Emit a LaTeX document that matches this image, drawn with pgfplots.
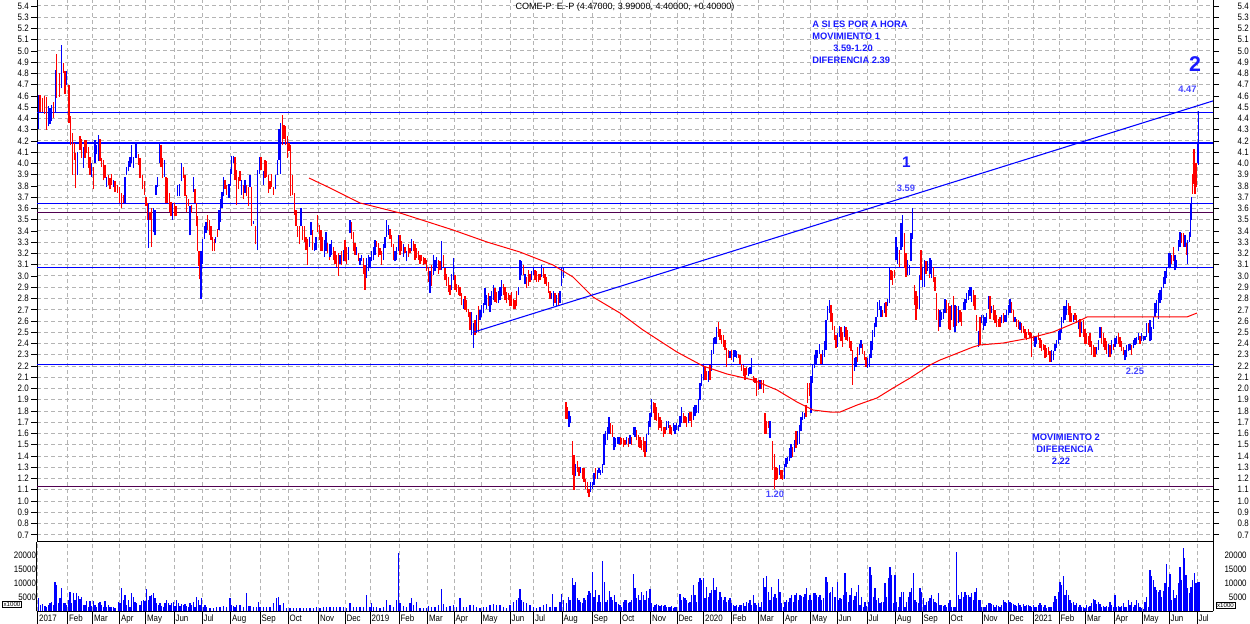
\documentclass[border=0pt]{standalone}
\usepackage{pgfplots}
\pgfplotsset{compat=1.18}
\usepackage{pgfplotstable}
\usepackage{fontspec}
\setmainfont{Liberation Sans}
\newfontfamily\nfont{Liberation Sans}[FakeStretch=0.85]
\definecolor{mblue}{RGB}{0,0,255}
\definecolor{mred}{RGB}{255,0,0}
\definecolor{mpurple}{RGB}{80,0,80}
\definecolor{gridgray}{RGB}{180,180,180}
\definecolor{annblue}{RGB}{25,25,255}
\definecolor{numblue}{RGB}{70,70,255}

\pgfplotstableread{
x l h c
38.3 4.31 4.61 1
40.0 4.46 4.61 0
42.3 4.46 4.58 0
44.7 4.44 4.60 0
46.7 4.30 4.59 0
48.3 4.33 4.51 1
50.0 4.35 4.49 1
51.7 4.38 4.52 1
53.3 4.40 4.55 0
55.7 4.45 4.83 1
56.7 4.58 4.97 0
59.3 4.59 4.80 0
61.7 4.67 5.05 1
63.3 4.80 4.89 0
65.0 4.62 4.82 0
66.7 4.70 4.82 1
69.0 4.36 4.70 0
70.7 4.16 4.42 0
72.7 3.90 4.27 0
74.3 4.03 4.18 0
75.7 3.78 4.09 0
77.3 3.90 4.10 1
80.0 4.12 4.24 0
81.7 4.05 4.22 0
83.3 3.96 4.15 1
85.0 4.05 4.21 0
86.7 4.09 4.21 0
88.3 3.96 4.15 0
90.0 3.90 4.06 0
91.7 3.88 4.00 1
93.3 3.77 3.97 0
95.0 4.00 4.21 1
96.7 4.08 4.16 1
98.3 4.02 4.25 1
100.0 4.02 4.22 0
101.7 3.97 4.05 0
103.3 3.85 4.03 0
105.0 3.87 3.99 0
106.7 3.79 3.88 1
108.3 3.81 3.90 0
110.0 3.77 3.87 0
111.7 3.81 3.91 0
113.3 3.79 3.85 1
115.0 3.75 3.84 0
117.3 3.74 3.81 0
119.3 3.65 3.79 0
121.7 3.60 3.74 0
123.3 3.65 3.72 0
125.0 3.65 3.88 1
126.7 3.90 3.97 1
128.3 3.93 4.02 1
130.0 3.97 4.06 1
131.7 4.00 4.16 1
133.3 3.96 4.06 1
136.0 4.05 4.18 1
138.3 3.99 4.08 0
140.0 3.87 4.05 0
142.3 3.77 3.90 0
144.3 3.72 3.84 0
146.0 3.62 3.70 0
147.3 3.50 3.65 0
148.3 3.25 3.65 1
150.0 3.50 3.57 0
151.7 3.26 3.60 0
153.3 3.39 3.60 1
155.0 3.36 3.59 1
156.0 3.72 3.81 1
157.7 3.79 3.88 1
159.3 4.00 4.18 1
161.0 3.97 4.16 0
162.7 3.87 4.05 0
164.3 3.88 4.03 1
166.0 3.65 3.88 0
167.7 3.65 3.87 0
169.3 3.57 3.74 0
171.0 3.53 3.66 0
172.7 3.50 3.65 1
174.3 3.53 3.65 0
176.0 3.53 3.62 0
177.7 3.71 3.81 1
179.3 3.71 3.82 1
181.7 3.84 4.00 1
183.3 3.87 3.97 0
185.0 3.71 3.90 0
186.7 3.57 3.72 0
188.3 3.62 3.68 0
190.0 3.36 3.62 1
191.7 3.56 3.63 0
193.3 3.75 3.88 1
195.0 3.65 3.77 0
196.7 3.44 3.65 0
197.7 3.22 3.53 0
199.0 3.09 3.22 0
200.0 2.97 3.11 0
201.0 2.80 3.22 1
202.7 3.11 3.33 1
204.3 3.33 3.44 1
206.0 3.38 3.48 1
207.7 3.41 3.54 0
209.3 3.36 3.50 0
211.0 3.32 3.44 0
212.7 3.22 3.35 0
214.3 3.22 3.33 0
215.7 3.29 3.35 1
217.3 3.35 3.42 0
219.0 3.41 3.59 1
220.7 3.48 3.68 1
222.0 3.60 3.75 1
223.3 3.71 3.88 1
225.0 3.77 3.85 0
226.7 3.72 3.81 0
229.0 3.69 3.82 1
230.3 3.80 3.95 1
231.7 3.91 4.07 1
233.3 4.00 4.07 1
235.0 3.85 4.06 0
236.7 3.63 3.94 0
238.3 3.77 3.88 0
240.0 3.84 3.93 0
241.7 3.72 3.85 1
243.3 3.68 3.81 0
245.0 3.74 3.85 1
246.7 3.71 3.81 0
248.3 3.62 3.79 0
250.0 3.79 3.90 1
251.7 3.44 3.79 0
253.3 3.46 3.49 1
255.7 3.28 3.44 0
257.7 3.23 3.94 1
259.3 3.91 4.06 1
261.0 3.94 4.06 0
263.3 3.81 3.93 1
265.0 3.87 4.03 0
266.7 3.88 4.02 0
268.3 3.74 3.90 0
270.0 3.77 3.84 0
271.7 3.79 3.91 0
273.3 3.72 3.79 0
275.7 3.77 3.90 1
277.3 3.90 4.03 1
279.0 4.03 4.31 1
280.7 3.91 4.36 1
282.3 4.16 4.43 0
284.0 4.22 4.34 0
285.7 4.16 4.33 0
287.3 4.05 4.24 0
289.0 4.11 4.18 0
290.7 3.71 4.16 0
292.3 3.72 3.90 0
294.3 3.54 3.74 0
296.0 3.44 3.59 0
297.7 3.35 3.44 0
299.3 3.28 3.44 0
301.0 3.44 3.60 1
302.7 3.32 3.44 0
304.3 3.30 3.44 0
306.0 3.23 3.35 0
307.7 3.10 3.33 0
309.3 3.26 3.35 1
311.0 3.36 3.48 1
312.7 3.23 3.41 0
314.3 3.22 3.29 1
316.0 3.23 3.35 1
317.7 3.39 3.54 0
319.3 3.32 3.45 0
321.0 3.22 3.41 0
322.7 3.22 3.35 0
324.3 3.17 3.32 1
326.0 3.22 3.39 1
327.7 3.20 3.29 0
329.3 3.14 3.28 0
330.0 3.17 3.28 1
331.7 3.19 3.32 1
333.3 3.14 3.26 0
335.0 3.11 3.22 0
336.7 3.08 3.19 0
338.3 3.00 3.20 0
340.0 3.11 3.19 1
341.7 3.10 3.22 0
343.3 3.13 3.23 1
345.0 3.13 3.32 0
346.7 3.11 3.26 0
348.3 3.14 3.26 1
350.0 3.38 3.50 1
351.7 3.33 3.48 0
353.3 3.22 3.39 0
355.0 3.19 3.29 0
356.7 3.19 3.26 1
358.3 3.13 3.20 0
360.0 3.10 3.16 1
361.7 3.13 3.19 1
363.3 3.02 3.16 0
365.0 2.88 3.10 0
366.7 2.98 3.16 1
368.3 3.04 3.19 1
370.0 3.07 3.17 1
371.7 3.13 3.22 1
373.3 3.14 3.26 1
375.0 3.19 3.32 1
376.7 3.26 3.31 0
378.3 3.17 3.29 0
380.0 3.19 3.25 0
381.7 3.10 3.22 0
383.3 3.14 3.28 1
385.0 3.25 3.35 1
386.7 3.35 3.50 1
388.3 3.36 3.45 1
390.0 3.33 3.42 0
391.7 3.26 3.36 0
393.3 3.14 3.28 0
395.0 3.13 3.22 1
396.7 3.14 3.26 1
398.3 3.22 3.36 1
400.0 3.19 3.36 0
401.7 3.22 3.31 0
403.3 3.17 3.28 1
405.0 3.20 3.26 0
406.7 3.13 3.22 1
408.3 3.17 3.28 0
410.0 3.20 3.25 0
411.7 3.22 3.33 1
413.3 3.22 3.31 0
415.0 3.14 3.28 0
416.7 3.16 3.25 0
418.3 3.14 3.22 0
420.0 3.11 3.19 0
421.7 3.13 3.19 0
423.3 3.10 3.17 0
425.0 3.11 3.16 0
426.7 3.04 3.14 0
428.3 2.95 3.08 0
430.0 2.85 3.04 1
431.7 2.91 3.10 0
433.3 3.01 3.19 1
435.0 3.04 3.14 1
436.7 3.08 3.17 1
438.3 3.02 3.14 0
440.0 3.05 3.13 0
441.7 3.05 3.31 1
443.3 3.08 3.19 0
445.0 2.96 3.07 0
446.7 2.91 3.02 0
448.3 2.86 2.99 0
450.0 2.83 2.92 0
451.7 2.88 3.02 1
453.3 2.96 3.16 1
455.0 2.88 3.01 0
456.7 2.86 2.93 0
458.3 2.83 2.92 0
460.0 2.82 2.90 0
461.7 2.74 2.85 0
463.3 2.71 2.80 1
465.0 2.70 2.82 0
466.7 2.68 2.79 0
468.3 2.64 2.71 0
470.0 2.52 2.68 0
471.7 2.48 2.68 1
473.3 2.36 2.58 1
475.0 2.48 2.61 0
476.7 2.49 2.65 1
478.3 2.50 2.73 0
480.0 2.61 2.70 1
481.7 2.64 2.74 1
483.3 2.67 2.76 1
485.0 2.74 2.89 1
486.7 2.71 2.83 1
488.3 2.73 2.85 0
490.0 2.68 2.82 1
491.7 2.74 2.87 1
493.3 2.79 2.92 1
495.0 2.77 2.89 0
496.7 2.76 2.86 0
498.3 2.76 2.87 1
500.0 2.79 2.90 1
501.7 2.82 2.96 1
503.3 2.83 2.93 0
505.0 2.79 2.90 0
506.7 2.76 2.86 0
508.3 2.79 2.85 0
510.0 2.73 2.83 0
511.7 2.73 2.86 0
513.3 2.71 2.80 0
515.0 2.71 2.79 0
516.7 2.73 2.87 0
518.3 2.83 2.90 1
520.0 2.96 3.14 1
521.7 3.01 3.13 1
523.3 3.01 3.10 0
525.0 2.93 3.02 1
526.7 2.89 2.99 0
528.3 2.91 3.05 0
530.0 2.95 3.02 0
531.7 2.96 3.04 1
533.3 3.01 3.08 1
535.0 2.96 3.05 0
536.7 2.95 3.04 0
538.3 2.95 3.02 0
540.0 2.96 3.02 0
541.7 2.99 3.10 1
543.3 2.98 3.07 0
545.0 2.93 3.02 0
546.7 2.91 2.99 0
548.3 2.85 2.95 0
550.0 2.80 2.87 0
551.7 2.80 2.85 1
553.3 2.73 2.87 1
555.0 2.76 2.85 0
556.7 2.73 2.83 1
558.3 2.74 2.85 0
560.0 2.76 2.87 1
561.7 2.91 3.07 1
563.3 2.98 3.07 1
566.0 1.73 1.88 0
567.3 1.73 1.84 0
569.0 1.66 1.80 1
570.7 1.69 1.76 1
572.3 1.23 1.53 0
574.0 1.10 1.41 0
575.7 1.22 1.33 1
577.3 1.26 1.36 0
579.0 1.22 1.30 0
580.7 1.25 1.30 1
582.3 1.20 1.29 0
584.0 1.17 1.29 0
585.7 1.11 1.20 0
587.3 1.07 1.17 0
589.0 1.04 1.11 0
590.7 1.08 1.17 1
592.3 1.11 1.17 1
594.0 1.14 1.25 1
595.7 1.20 1.29 0
597.3 1.20 1.28 1
599.0 1.25 1.29 1
600.7 1.23 1.28 1
602.3 1.25 1.33 1
604.0 1.32 1.60 1
605.7 1.50 1.62 1
607.3 1.54 1.66 1
609.0 1.60 1.75 1
610.7 1.60 1.69 0
612.3 1.57 1.68 0
614.0 1.45 1.57 1
615.7 1.48 1.56 1
617.3 1.51 1.57 1
619.0 1.51 1.57 1
620.0 1.50 1.57 0
621.7 1.51 1.56 0
623.3 1.48 1.56 0
625.0 1.50 1.54 0
626.7 1.51 1.57 1
628.3 1.48 1.56 0
630.0 1.51 1.59 1
631.7 1.50 1.57 0
633.3 1.59 1.66 1
635.0 1.57 1.66 1
636.7 1.54 1.63 0
638.3 1.48 1.59 0
640.0 1.47 1.57 0
641.7 1.45 1.54 0
643.3 1.44 1.57 0
645.0 1.39 1.53 0
646.7 1.44 1.60 1
648.3 1.59 1.71 1
650.0 1.66 1.78 1
651.7 1.75 1.91 1
653.3 1.78 1.88 0
655.0 1.72 1.87 0
656.7 1.71 1.84 0
658.3 1.63 1.78 0
660.0 1.65 1.75 0
661.7 1.62 1.72 0
663.3 1.57 1.66 0
665.0 1.60 1.66 0
666.7 1.63 1.71 1
668.3 1.65 1.71 1
670.0 1.60 1.68 0
671.7 1.59 1.66 0
673.3 1.62 1.69 1
675.0 1.60 1.68 1
676.7 1.63 1.69 1
678.3 1.62 1.68 1
680.0 1.66 1.76 1
681.7 1.69 1.84 1
683.3 1.69 1.78 0
685.0 1.69 1.76 0
686.7 1.66 1.75 0
688.3 1.69 1.78 1
690.0 1.71 1.79 0
691.7 1.66 1.79 0
693.3 1.72 1.84 1
695.0 1.76 1.85 1
696.7 1.78 1.85 1
698.3 1.78 1.91 1
700.0 1.90 2.05 1
701.7 2.02 2.13 1
703.3 2.08 2.21 1
705.0 2.08 2.19 0
706.7 2.08 2.16 0
708.3 2.06 2.16 1
710.0 2.08 2.21 0
711.7 2.16 2.34 1
713.3 2.31 2.45 1
715.0 2.40 2.46 1
716.7 2.40 2.55 1
718.3 2.46 2.59 0
720.0 2.43 2.53 0
721.7 2.40 2.48 0
723.3 2.37 2.48 0
725.0 2.34 2.43 0
726.7 2.19 2.36 0
728.3 2.27 2.34 0
730.0 2.27 2.33 1
731.7 2.25 2.34 0
733.3 2.24 2.34 1
735.0 2.28 2.34 1
736.7 2.27 2.33 1
738.3 2.27 2.31 0
740.0 2.22 2.30 0
741.7 2.16 2.22 0
743.3 2.11 2.21 0
745.0 2.08 2.18 0
746.7 2.12 2.19 0
748.3 2.11 2.18 1
750.0 2.13 2.19 1
751.7 2.13 2.27 1
753.3 2.06 2.11 0
755.0 2.05 2.09 0
756.7 1.93 2.09 0
758.3 1.99 2.08 0
760.0 2.00 2.08 1
761.7 2.00 2.08 0
763.3 1.96 2.08 0
765.0 1.60 1.78 0
766.7 1.60 1.71 0
768.3 1.65 1.71 0
770.0 1.56 1.71 1
772.7 1.28 1.53 0
774.3 1.11 1.42 0
776.0 1.19 1.30 0
777.7 1.20 1.29 0
779.3 1.23 1.32 1
781.0 1.20 1.28 0
782.7 1.19 1.28 0
784.3 1.20 1.33 1
786.0 1.30 1.38 1
787.7 1.33 1.39 1
789.3 1.36 1.47 1
791.0 1.38 1.51 1
792.7 1.39 1.48 0
794.3 1.44 1.54 1
796.0 1.47 1.62 0
797.7 1.50 1.62 1
799.3 1.51 1.68 1
801.0 1.62 1.75 1
802.7 1.72 1.79 1
804.3 1.73 1.78 1
806.0 1.75 1.85 0
807.7 1.87 2.05 0
809.3 1.93 2.05 0
811.0 1.78 2.11 1
812.7 2.05 2.21 1
814.3 2.18 2.30 1
816.0 2.22 2.34 1
817.7 2.27 2.34 1
819.3 2.31 2.40 1
821.0 2.22 2.31 0
822.7 2.21 2.34 1
824.3 2.28 2.42 1
826.0 2.34 2.61 1
827.7 2.61 2.73 1
829.3 2.67 2.79 1
831.0 2.59 2.74 0
832.7 2.52 2.67 0
834.3 2.43 2.56 0
836.0 2.36 2.48 0
837.7 2.37 2.49 1
839.3 2.46 2.56 1
841.0 2.42 2.55 0
842.7 2.37 2.50 0
844.3 2.46 2.56 1
846.0 2.43 2.55 0
847.7 2.42 2.52 0
849.3 2.36 2.46 0
851.0 2.33 2.42 0
852.7 2.03 2.34 0
854.3 2.16 2.27 1
856.0 2.19 2.28 1
857.7 2.24 2.37 0
859.3 2.30 2.40 1
861.0 2.36 2.43 1
862.7 2.31 2.40 0
864.3 2.25 2.33 0
866.0 2.19 2.28 0
867.7 2.18 2.27 1
869.3 2.19 2.31 1
871.0 2.27 2.42 1
872.7 2.34 2.52 1
874.3 2.46 2.58 1
876.0 2.55 2.64 1
877.7 2.64 2.77 1
879.3 2.70 2.79 1
881.0 2.64 2.73 1
882.7 2.64 2.70 0
884.3 2.67 2.76 1
886.0 2.64 2.77 0
887.7 2.73 2.80 1
889.3 2.76 3.08 1
891.0 2.96 3.05 0
892.7 2.92 3.04 0
894.3 2.98 3.05 0
896.0 3.14 3.35 1
897.7 3.11 3.26 1
899.3 3.08 3.23 0
901.0 3.23 3.47 1
902.7 3.26 3.54 1
904.3 3.07 3.38 0
906.0 2.99 3.20 0
907.7 3.01 3.14 1
909.3 3.01 3.10 1
911.0 3.13 3.38 1
912.7 3.33 3.60 1
914.3 2.74 2.92 0
916.0 2.61 2.87 0
917.7 2.71 2.82 0
919.3 2.71 3.01 1
921.0 2.96 3.23 0
922.7 2.90 3.08 1
924.3 2.90 3.14 1
926.0 3.02 3.13 0
927.7 3.04 3.13 1
929.3 2.98 3.10 0
930.0 3.02 3.16 1
931.7 2.98 3.14 1
933.3 2.95 3.08 0
935.0 2.87 2.99 0
936.7 2.61 2.85 0
938.3 2.51 2.71 0
940.0 2.55 2.70 1
941.7 2.61 2.68 1
943.3 2.62 2.71 1
945.0 2.67 2.80 1
946.7 2.67 2.79 0
948.3 2.53 2.76 0
950.0 2.52 2.73 0
951.7 2.61 2.74 1
953.3 2.55 2.82 0
955.0 2.50 2.74 1
956.7 2.56 2.73 0
958.3 2.58 2.73 1
960.0 2.59 2.70 0
961.7 2.56 2.68 0
963.3 2.70 2.77 1
965.0 2.70 2.80 1
966.7 2.76 2.85 1
968.3 2.79 2.88 1
970.0 2.82 2.90 1
971.7 2.77 2.90 1
973.3 2.73 2.88 0
975.0 2.70 2.83 0
976.7 2.51 2.65 0
978.3 2.37 2.51 1
980.0 2.39 2.64 0
981.7 2.58 2.65 1
983.3 2.52 2.65 1
985.0 2.56 2.64 1
986.7 2.58 2.67 1
988.3 2.71 2.82 1
990.0 2.62 2.82 0
991.7 2.67 2.73 1
993.3 2.61 2.74 0
995.0 2.58 2.70 0
996.7 2.55 2.65 0
998.3 2.55 2.62 0
1000.0 2.55 2.64 0
1001.7 2.58 2.65 1
1003.3 2.58 2.67 0
1005.0 2.59 2.65 1
1006.7 2.59 2.70 1
1008.3 2.65 2.74 1
1010.0 2.67 2.80 1
1011.7 2.67 2.77 0
1013.3 2.59 2.70 0
1015.0 2.59 2.64 1
1016.7 2.55 2.62 0
1018.3 2.53 2.61 0
1020.0 2.52 2.59 1
1021.7 2.49 2.58 0
1023.3 2.49 2.56 0
1025.0 2.45 2.53 0
1026.7 2.43 2.50 0
1028.3 2.48 2.53 0
1030.0 2.45 2.50 0
1031.7 2.28 2.49 0
1033.3 2.42 2.47 0
1035.0 2.37 2.47 1
1036.7 2.40 2.46 1
1038.3 2.43 2.49 0
1040.0 2.36 2.45 0
1041.7 2.33 2.43 0
1043.3 2.34 2.40 0
1045.0 2.27 2.39 0
1046.7 2.28 2.36 0
1048.3 2.30 2.37 0
1050.0 2.24 2.33 0
1051.7 2.24 2.34 1
1053.3 2.25 2.33 1
1055.0 2.33 2.40 1
1056.7 2.36 2.43 1
1058.3 2.40 2.51 1
1060.0 2.43 2.53 1
1061.7 2.49 2.64 1
1063.3 2.58 2.73 1
1065.0 2.61 2.73 1
1066.7 2.65 2.79 1
1068.3 2.65 2.76 0
1070.0 2.59 2.73 0
1071.7 2.59 2.67 0
1073.3 2.59 2.65 1
1075.0 2.61 2.67 0
1076.7 2.58 2.65 0
1078.3 2.53 2.61 1
1080.0 2.46 2.62 0
1081.7 2.49 2.59 1
1083.3 2.46 2.61 0
1085.0 2.40 2.53 0
1086.7 2.40 2.49 0
1088.3 2.39 2.47 0
1090.0 2.37 2.49 0
1091.7 2.30 2.42 0
1093.3 2.28 2.39 0
1095.0 2.28 2.37 0
1096.7 2.31 2.37 1
1098.3 2.34 2.43 1
1100.0 2.45 2.55 1
1101.7 2.40 2.55 0
1103.3 2.37 2.49 0
1105.0 2.34 2.45 0
1106.7 2.31 2.42 0
1108.3 2.28 2.40 1
1110.0 2.28 2.39 0
1111.7 2.31 2.43 1
1113.3 2.34 2.40 0
1115.0 2.37 2.45 1
1116.7 2.40 2.47 1
1118.3 2.40 2.49 0
1120.0 2.37 2.46 0
1121.7 2.33 2.42 0
1123.3 2.30 2.37 0
1125.0 2.25 2.34 1
1126.7 2.28 2.39 1
1128.3 2.33 2.40 1
1130.0 2.34 2.40 1
1131.7 2.30 2.39 0
1133.3 2.36 2.43 1
1135.0 2.39 2.45 1
1136.7 2.40 2.46 1
1138.3 2.43 2.49 1
1140.0 2.40 2.47 0
1141.7 2.42 2.49 1
1143.3 2.42 2.47 1
1145.0 2.43 2.47 1
1146.7 2.46 2.58 1
1148.3 2.49 2.58 0
1150.0 2.42 2.61 1
1151.7 2.43 2.55 1
1153.3 2.53 2.64 1
1155.0 2.64 2.76 1
1156.7 2.67 2.79 1
1158.3 2.62 2.85 1
1160.0 2.76 2.88 1
1161.7 2.79 2.90 1
1163.3 2.89 2.99 1
1165.0 2.93 3.04 1
1166.7 2.98 3.08 1
1168.3 3.08 3.20 1
1170.0 3.08 3.20 1
1171.7 3.11 3.19 0
1173.3 3.13 3.26 0
1175.0 3.05 3.19 1
1176.7 3.08 3.14 1
1178.3 3.22 3.32 1
1180.0 3.26 3.39 1
1181.7 3.29 3.38 0
1183.3 3.26 3.38 0
1185.0 3.26 3.36 1
1186.7 3.19 3.29 0
1187.7 3.11 3.32 1
1189.3 3.30 3.39 1
1190.7 3.35 3.65 1
1191.7 3.50 3.70 1
1192.7 3.73 3.91 0
1194.0 3.82 4.13 0
1195.0 3.73 4.00 0
1196.0 3.79 4.00 0
1197.7 4.00 4.18 1
1198.3 3.99 4.47 1
}\price

\pgfplotstableread{
x v
38.3 4700
40.7 2300
42.3 2700
45.0 2000
46.7 1500
48.3 2300
50.0 2900
51.7 3500
53.3 2300
55.0 10500
56.7 9400
58.3 2900
60.0 4800
61.7 8200
63.3 2900
65.0 3100
66.7 2300
68.3 4100
70.0 7000
71.7 2900
73.3 6700
75.0 4100
76.7 6500
78.3 5500
80.0 4300
81.7 5000
83.3 2300
85.0 2300
86.7 3700
88.3 1700
90.0 3700
91.7 2000
93.3 3700
95.0 2300
96.7 1700
98.3 2900
100.0 3500
101.7 2300
103.3 1700
105.0 3700
106.7 1500
108.3 2300
110.0 1500
111.7 1500
113.3 1500
115.0 1100
118.3 3500
120.0 2900
121.7 8200
123.3 4100
125.0 5900
126.7 2300
128.3 4100
130.0 1700
131.7 6500
133.3 5300
135.0 3500
136.7 2900
140.0 2300
141.7 3700
143.3 4100
145.0 3700
146.7 8000
148.3 4100
150.0 5500
151.7 5900
153.3 6500
155.0 4700
156.7 2900
158.3 2300
160.0 2900
161.7 2000
163.3 1700
165.0 3100
166.7 4100
168.3 2900
170.0 2300
171.7 3100
173.3 3500
175.0 2000
176.7 4100
178.3 3100
180.0 2000
181.7 2700
183.3 2300
185.0 2600
186.7 2000
188.3 1700
190.0 2900
191.7 2300
193.3 3500
195.0 1700
196.7 5000
198.3 4100
200.0 2300
201.7 4700
203.3 1700
205.0 2300
206.7 1500
210.0 1100
213.3 1100
216.7 1500
220.0 1500
223.3 2000
226.7 1500
230.0 4700
231.7 2300
233.3 2000
235.0 1700
236.7 2300
240.0 2300
243.3 1500
246.7 6700
248.3 2000
250.0 2000
253.3 1500
256.7 1500
258.3 3500
260.0 1500
263.3 1500
266.7 1500
270.0 1700
273.3 2900
276.7 4700
278.3 5000
280.0 2300
283.3 2900
286.7 1100
290.0 1100
293.3 1100
296.7 1100
300.0 1100
303.3 1100
306.7 1100
310.0 1100
313.3 1100
316.7 1500
320.0 1100
323.3 1500
326.7 1500
330.0 1500
333.3 1500
336.7 1700
340.0 1500
343.3 1500
346.7 1100
350.0 3100
353.3 1500
356.7 1500
360.0 1700
363.3 1500
366.7 5900
370.0 1500
371.7 2900
373.3 1500
376.7 1500
380.0 1100
383.3 1500
386.7 4100
390.0 2300
393.3 1700
396.7 4100
398.3 20600
400.0 2900
403.3 2000
406.7 1500
410.0 2900
411.7 4700
413.3 2300
416.7 3500
420.0 1100
423.3 1100
426.7 1100
428.3 2000
431.7 1700
435.0 1500
438.3 2300
441.7 8000
443.3 2700
446.7 1500
450.0 2000
453.3 2300
456.7 1500
460.0 4800
463.3 1500
466.7 1500
470.0 2300
473.3 2300
476.7 1500
480.0 1100
483.3 1500
486.7 1500
490.0 2300
493.3 2700
496.7 2300
500.0 2300
503.3 1700
506.7 1100
510.0 2300
513.3 3500
516.7 4100
518.3 4700
520.0 8000
521.7 4100
523.3 3500
526.7 2900
530.0 2300
533.3 1500
536.7 1100
540.0 1500
543.3 2300
546.7 2700
550.0 1500
552.7 6200
555.0 1500
556.7 1700
560.0 3500
561.7 6200
563.3 4100
566.7 2900
568.3 5000
570.0 4100
572.3 11800
574.0 9400
575.7 10600
577.3 4700
579.0 4100
580.7 3500
582.3 2900
584.0 4700
585.7 4100
587.3 5900
589.0 7400
590.7 6700
592.3 14100
594.0 5300
595.7 7600
597.3 3500
599.0 5900
600.7 3500
602.7 17700
604.3 10600
606.0 3500
607.7 4100
609.3 7400
611.0 5300
612.7 4100
614.3 5900
616.0 3500
618.3 2700
620.0 2300
621.7 1700
623.3 3500
625.0 4100
626.7 4100
628.3 2900
630.0 3500
631.7 4100
633.3 13300
635.0 8200
636.7 4700
638.3 5900
640.0 4100
641.7 7000
643.3 5900
645.0 4100
646.7 7400
648.3 4700
650.0 8000
651.7 2900
653.3 1700
655.0 2300
656.7 2700
658.3 2300
660.0 2000
661.7 2300
663.3 2000
665.0 2300
666.7 1500
668.3 1700
670.0 1500
671.7 2000
673.3 1100
675.0 1500
676.7 1700
680.0 6200
681.7 4100
683.3 5300
685.0 4700
686.7 4100
688.3 2900
690.0 3500
691.7 5900
693.3 9400
695.0 5900
696.7 3500
698.3 10600
700.0 11800
701.7 11200
703.3 11800
705.0 4700
706.7 8800
708.3 5300
710.0 6500
711.7 7600
713.3 11800
715.0 7600
716.7 8800
718.3 4100
720.0 7000
721.7 5300
723.3 4100
725.0 5300
726.7 3500
728.3 4100
730.0 4700
731.7 2900
733.3 2300
735.0 2000
736.7 2300
738.3 1500
740.0 2300
741.7 2300
743.3 2900
745.0 2000
746.7 3500
748.3 2900
750.0 4100
751.7 2300
753.3 5900
755.0 2900
756.7 2300
758.3 2900
760.0 1700
761.7 3500
763.3 11800
765.0 8800
766.7 12600
768.3 7000
770.0 4100
771.7 8800
773.3 5300
775.0 6200
776.7 4700
778.3 11400
780.0 7000
781.7 2900
783.3 1500
785.0 3500
786.7 4100
788.3 3500
790.0 4700
791.7 5900
793.3 3500
795.0 5900
796.7 6500
798.3 4100
800.0 5900
801.7 5500
803.3 5300
805.0 6200
806.7 8200
808.3 4100
810.0 5900
811.7 4100
813.3 6500
815.0 6500
816.7 5900
818.3 5300
820.0 5900
821.7 4100
823.3 4700
826.0 12100
827.3 10600
829.3 6500
830.7 7000
832.7 8800
835.0 5000
837.3 10300
838.3 4100
840.0 4700
841.7 4300
843.3 5900
845.0 13500
846.7 7000
848.3 3500
850.0 5900
851.7 8200
853.3 4100
855.0 5500
856.7 7000
858.3 9400
860.0 2300
861.7 5000
863.3 1700
865.0 3500
866.7 2000
868.3 3500
870.0 15900
871.7 13000
873.3 5300
875.0 8200
876.7 4100
878.3 4700
880.0 2900
881.7 3500
883.3 3500
885.0 10000
886.7 5300
888.3 11800
890.0 15900
891.7 13000
893.3 2900
895.0 13000
896.7 3500
898.3 1700
900.0 5300
901.7 7000
903.3 7000
905.0 1700
906.7 3500
908.3 5000
910.0 7000
911.7 8200
913.3 13500
915.0 4100
916.7 3500
918.3 2900
920.0 8200
921.7 7000
923.3 4700
925.0 2300
926.7 3500
928.3 3800
930.0 4700
931.7 5900
933.3 4300
935.0 3500
936.7 3100
938.3 6500
940.0 2300
941.7 2300
943.3 2000
945.0 2300
946.7 1500
948.3 2900
950.0 4100
951.7 1700
953.3 1700
955.0 1500
956.7 21200
958.3 5900
960.0 4300
961.7 7000
963.3 5300
965.0 7000
966.7 5900
968.3 5900
970.0 5000
971.7 6500
973.3 4100
975.0 7000
976.7 8200
978.3 4100
980.0 3900
981.7 1500
983.3 1500
985.0 1500
986.7 2300
988.3 3100
990.0 2900
991.7 2700
993.3 2300
995.0 1500
996.7 2300
998.3 2000
1000.0 1500
1001.7 2300
1003.3 4100
1005.0 3500
1006.7 2900
1008.3 4100
1010.0 3500
1011.7 2900
1013.3 2700
1015.0 2300
1016.7 2000
1018.3 3100
1020.0 2300
1021.7 1500
1023.3 2700
1025.0 2000
1026.7 2300
1028.3 2300
1030.0 2000
1031.7 1500
1033.3 2300
1035.0 1700
1036.7 1500
1038.3 2300
1040.0 2900
1041.7 2300
1043.3 1500
1045.0 2300
1046.7 1100
1048.3 1500
1050.0 1700
1051.7 1500
1053.3 3500
1055.0 5500
1056.7 4300
1058.3 7000
1060.0 10600
1061.7 9400
1063.3 12600
1065.0 5900
1066.7 7600
1068.3 5900
1070.0 4100
1071.7 2900
1073.3 3500
1075.0 2300
1076.7 2900
1078.3 1500
1080.0 2300
1081.7 1500
1083.3 1500
1085.0 1100
1086.7 2300
1088.3 1500
1090.0 2000
1091.7 3100
1093.3 4300
1095.0 4100
1096.7 2700
1098.3 3500
1100.0 2700
1101.7 1500
1103.3 2000
1105.0 1500
1106.7 2000
1108.3 1500
1110.0 3500
1111.7 2300
1113.3 1500
1115.0 5900
1116.7 1500
1118.3 2000
1120.0 1500
1121.7 2000
1123.3 2900
1125.0 1500
1126.7 1500
1128.3 4100
1130.0 2300
1131.7 3500
1133.3 1500
1135.0 2300
1136.7 4100
1138.3 2900
1140.0 1500
1141.7 1100
1143.3 800
1145.0 3500
1146.7 5000
1148.3 1500
1150.0 14700
1151.7 12400
1153.3 11200
1155.0 8800
1156.7 7600
1158.3 7000
1160.0 7600
1161.7 5300
1163.3 7400
1165.0 10000
1166.7 16900
1168.3 8800
1170.0 13300
1171.7 4100
1173.3 7600
1175.0 4700
1176.7 5900
1178.3 10200
1180.0 15900
1181.7 11200
1183.3 22400
1184.3 18900
1186.0 13000
1187.7 8200
1189.3 6500
1191.0 8800
1192.7 11200
1194.3 13800
1196.0 10000
1197.3 10600
1199.0 10600
}\vol

\pgfplotsset{
  tlfont/.style={font=\nfont\fontsize{7}{8}\selectfont},
  commonx/.style={
    xmin=37, xmax=1213, scale only axis, width=882pt, anchor=south west,
    xtick={37.5,67.5,92.5,119.5,145.5,174,202,230.5,260,288,318.5,345,370,399,427.5,454,481,510,533.5,562,592,620.5,650.5,677,703.5,731,758.5,783.5,810.5,837,867,895.5,922,949,982,1008,1033,1059,1085.5,1114,1142,1169,1197},
  },
  pricey/.style={
    ymin=0.636, ymax=5.453, height=406.5pt, at={(27.75pt,61.5pt)},
    ytick={0.7,0.8,0.9,1.0,1.1,1.2,1.3,1.4,1.5,1.6,1.7,1.8,1.9,2.0,2.1,2.2,2.3,2.4,2.5,2.6,2.7,2.8,2.9,3.0,3.1,3.2,3.3,3.4,3.5,3.6,3.7,3.8,3.9,4.0,4.1,4.2,4.3,4.4,4.5,4.6,4.7,4.8,4.9,5.0,5.1,5.2,5.3,5.4},
    yticklabels={0.7,0.8,0.9,1.0,1.1,1.2,1.3,1.4,1.5,1.6,1.7,1.8,1.9,2.0,2.1,2.2,2.3,2.4,2.5,2.6,2.7,2.8,2.9,3.0,3.1,3.2,3.3,3.4,3.5,3.6,3.7,3.8,3.9,4.0,4.1,4.2,4.3,4.4,4.5,4.6,4.7,4.8,4.9,5.0,5.1,5.2,5.3,5.4},
  },
  voly/.style={
    ymin=0, ymax=24600, height=52.125pt, at={(27.75pt,9.375pt)},
    ytick={5000,10000,15000,20000}, yticklabels={5000,10000,15000,20000},
    scaled y ticks=false,
  },
  gstyle/.style={major grid style={gridgray, line width=0.75pt, dash pattern=on 3pt off 2.25pt}},
}

\begin{document}
\begin{tikzpicture}
\useasboundingbox (0,0) rectangle (937.5pt,468pt);

% ---------- price panel ----------
\begin{axis}[commonx, pricey, gstyle,
  axis x line*=bottom, axis y line*=left,
  axis line style={black, line width=0.75pt},
  xticklabels={}, xtick style={draw=none},
  ytick align=outside, major tick length=4.5pt,
  ytick style={black, line width=0.6pt},
  yticklabel style={tlfont, inner sep=1.5pt},
  xmajorgrids, ymajorgrids,
]
\addplot[mblue, line width=1pt] coordinates {(37,4.455) (1213,4.455)};
\addplot[mblue, line width=1pt] coordinates {(37,4.182) (1213,4.182)};
\addplot[mblue, line width=1pt] coordinates {(37,3.646) (1213,3.646)};
\addplot[mpurple, line width=1pt] coordinates {(37,3.566) (1213,3.566)};
\addplot[mblue, line width=1pt] coordinates {(37,3.077) (1213,3.077)};
\addplot[mblue, line width=1pt] coordinates {(37,2.215) (1213,2.215)};
\addplot[mpurple, line width=1pt] coordinates {(37,1.130) (1213,1.130)};

\addplot[mred, line width=0.95pt, quiver={u=0, v=\thisrow{h}-\thisrow{l}},
  restrict expr to domain={\thisrow{c}}{-0.5:0.5}] table[x=x, y=l] {\price};
\addplot[mblue, line width=0.95pt, quiver={u=0, v=\thisrow{h}-\thisrow{l}},
  restrict expr to domain={\thisrow{c}}{0.5:1.5}] table[x=x, y=l] {\price};

\addplot[mred, line width=0.75pt] coordinates {
(309,3.871) (330,3.782) (360,3.649) (400,3.560) (453,3.409) (487,3.302) (520,3.213)
(553,3.098) (573,2.991) (593,2.813) (620,2.671) (643,2.520) (677,2.324) (703,2.200)
(727,2.129) (753,2.076) (777,1.987) (797,1.880) (813,1.809) (830,1.791) (840,1.791)
(857,1.853) (877,1.916) (893,2.004) (910,2.093) (930,2.209) (940,2.253) (973,2.369)
(980,2.387) (1003,2.404) (1030,2.449) (1053,2.502) (1077,2.591) (1087,2.636)
(1113,2.636) (1187,2.636) (1197,2.671)};

\addplot[mblue, line width=0.8pt] coordinates {(474,2.502) (1213,4.556)};

\node[font=\fontsize{6.8}{8}\selectfont, black] at (axis cs:625,5.391) {COME-P: E.-P (4.47000, 3.99000, 4.40000, +0.40000)};
\node[font=\bfseries\fontsize{7}{8}\selectfont, annblue, anchor=west, inner sep=0pt] at (axis cs:812,5.240) {A SI ES POR A HORA};
\node[font=\bfseries\fontsize{7}{8}\selectfont, annblue, anchor=west, inner sep=0pt] at (axis cs:812,5.133) {MOVIMIENTO 1};
\node[font=\bfseries\fontsize{7}{8}\selectfont, annblue, anchor=west, inner sep=0pt] at (axis cs:833,5.027) {3.59-1.20};
\node[font=\bfseries\fontsize{7}{8}\selectfont, annblue, anchor=west, inner sep=0pt] at (axis cs:812,4.920) {DIFERENCIA 2.39};
\node[font=\bfseries\fontsize{16}{18}\selectfont, annblue] at (axis cs:1195,4.880) {2};
\node[font=\bfseries\fontsize{7}{8}\selectfont, numblue] at (axis cs:1187.5,4.662) {4.47};
\node[font=\bfseries\fontsize{11.5}{13}\selectfont, annblue] at (axis cs:906.5,4.013) {1};
\node[font=\bfseries\fontsize{7}{8}\selectfont, numblue] at (axis cs:906,3.782) {3.59};
\node[font=\bfseries\fontsize{7}{8}\selectfont, numblue] at (axis cs:775,1.062) {1.20};
\node[font=\bfseries\fontsize{7}{8}\selectfont, numblue] at (axis cs:1135,2.156) {2.25};
\node[font=\bfseries\fontsize{7}{8}\selectfont, annblue] at (axis cs:1066,1.569) {MOVIMIENTO 2};
\node[font=\bfseries\fontsize{7}{8}\selectfont, annblue] at (axis cs:1065,1.462) {DIFERENCIA};
\node[font=\bfseries\fontsize{7}{8}\selectfont, annblue] at (axis cs:1061,1.356) {2.22};
\end{axis}

% right-hand price labels
\begin{axis}[commonx, pricey,
  axis y line*=right, axis x line=none, xtick=\empty,
  axis line style={black, line width=0.75pt},
  ytick align=outside, major tick length=4.5pt,
  ytick style={black, line width=0.6pt},
  yticklabel style={tlfont, anchor=east, inner sep=1.5pt, xshift=24pt},
]
\addplot[draw=none] coordinates {(100,1)};
\end{axis}

% ---------- volume panel ----------
\begin{axis}[commonx, voly, gstyle,
  axis x line*=bottom, axis y line*=left,
  axis line style={black, line width=0.75pt},
  xticklabels={2017,Feb,Mar,Apr,May,Jun,Jul,Aug,Sep,Oct,Nov,Dec,2019,Feb,Mar,Apr,May,Jun,Jul,Aug,Sep,Oct,Nov,Dec,2020,Feb,Mar,Apr,May,Jun,Jul,Aug,Sep,Oct,Nov,Dec,2021,Feb,Mar,Apr,May,Jun,Jul},
  xtick align=outside, ytick align=inside, major tick length=9.4pt,
  xtick style={black, line width=0.6pt},
  ytick style={draw=none},
  xticklabel style={tlfont, anchor=north west, inner sep=0pt, xshift=1pt, yshift=6.8pt},
  yticklabel style={tlfont, inner sep=0.6pt},
  xmajorgrids,
]
\addplot[mblue, ycomb, line width=0.9pt] table[x=x, y=v] {\vol};
\end{axis}

% right-hand volume labels
\begin{axis}[commonx, voly,
  axis y line*=right, axis x line=none, xtick=\empty,
  axis line style={black, line width=0.75pt},
  ytick align=inside, major tick length=0pt,
  ytick style={draw=none},
  yticklabel style={tlfont, anchor=east, inner sep=0.6pt, xshift=26pt},
]
\addplot[draw=none] coordinates {(100,1)};
\end{axis}

\node[draw=black, line width=0.5pt, inner sep=0.8pt, font=\fontsize{4.6}{5}\selectfont] at (9pt,14.6pt) {x1000};
\node[draw=black, line width=0.5pt, inner sep=0.8pt, font=\fontsize{4.6}{5}\selectfont] at (919.1pt,13.9pt) {x1000};
\end{tikzpicture}
\end{document}
